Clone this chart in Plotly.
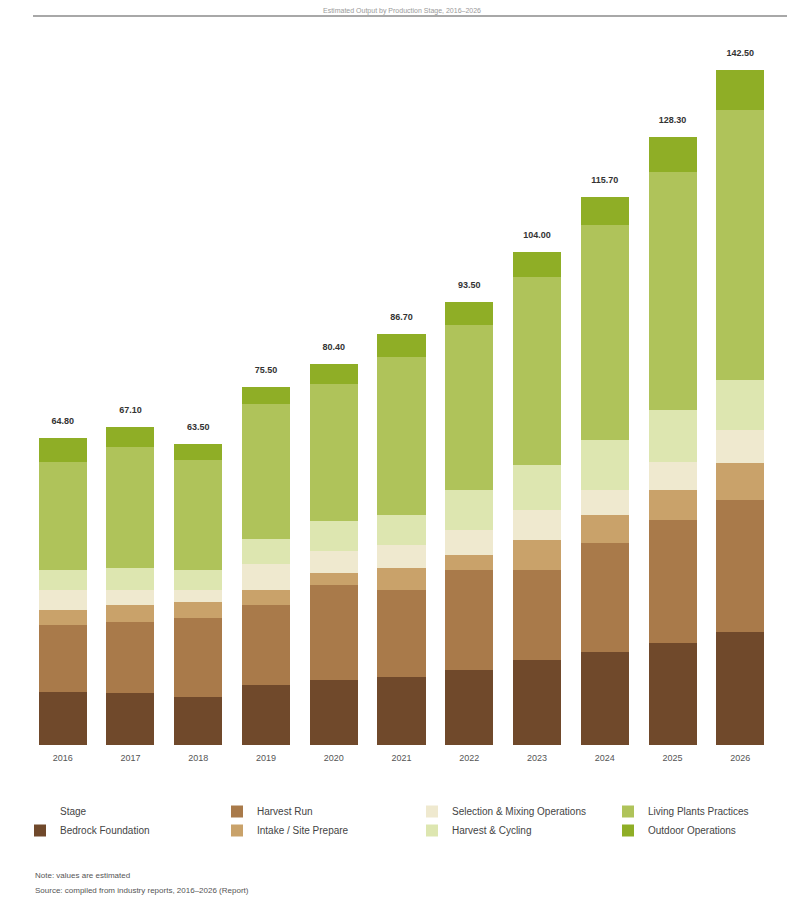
import plotly.graph_objects as go

years = ["2016", "2017", "2018", "2019", "2020", "2021", "2022", "2023", "2024", "2025", "2026"]

stage_names = [
    "Bedrock Foundation",
    "Harvest Run",
    "Intake / Site Prepare",
    "Selection & Mixing Operations",
    "Harvest & Cycling",
    "Living Plants Practices",
    "Outdoor Operations",
]

bedrock   = [11.2, 11.0, 10.1, 12.7, 13.7, 14.3, 15.8, 17.9, 19.6, 21.5, 23.8]
harvest   = [14.1, 15.0, 16.7, 16.9, 20.0, 18.4, 21.1, 19.0, 23.0, 26.0, 27.9]
intake    = [3.2, 3.6, 3.4, 3.2, 2.7, 4.6, 3.2, 6.3, 5.9, 6.3, 7.8]
selection = [4.2, 3.2, 2.5, 5.3, 4.6, 4.9, 5.3, 6.3, 5.3, 5.9, 7.0]
cycling   = [4.2, 4.6, 4.2, 5.3, 6.3, 6.3, 8.4, 9.5, 10.6, 11.0, 10.6]
living    = [22.8, 25.5, 23.2, 28.5, 28.9, 33.3, 34.8, 39.7, 45.4, 50.2, 57.0]
outdoor   = [5.1, 4.2, 3.4, 3.6, 4.2, 4.9, 4.9, 5.3, 5.9, 7.4, 8.4]

series = [bedrock, harvest, intake, selection, cycling, living, outdoor]
colors = ["#70492b", "#a97a4a", "#c9a26a", "#efe9cf", "#dde6b0", "#afc35a", "#8fae26"]
# legend column of each stage (column 1 starts with the "Stage" heading)
legend_cols = ["legend", "legend2", "legend2", "legend3", "legend3", "legend4", "legend4"]
legend_rank = [2, 1, 2, 1, 2, 1, 2]

totals = [round(sum(v), 2) for v in zip(*series)]

W, H = 790, 893
PLOT_L, PLOT_R = 17, 770
PLOT_TOP, PLOT_BOT = 32, 737

fig = go.Figure()

fig.add_trace(go.Bar(
    x=years, y=[0] * len(years), name="Stage",
    marker=dict(color="rgba(0,0,0,0)", line=dict(width=0)),
    legend="legend", legendrank=1, hoverinfo="skip",
))

for name, vals, col, lg, rk in zip(stage_names, series, colors, legend_cols, legend_rank):
    fig.add_trace(go.Bar(
        x=years, y=vals, name=name,
        marker=dict(color=col, line=dict(width=0)),
        legend=lg, legendrank=rk,
    ))

fig.add_trace(go.Scatter(
    x=years, y=totals, mode="text",
    text=[f"<b>{t:.2f}</b><br> " for t in totals],
    textposition="top center",
    textfont=dict(size=9, color="#333333", family="Liberation Sans"),
    showlegend=False, hoverinfo="skip", cliponaxis=False,
))

legend_common = dict(
    orientation="v", xref="container", yref="container", xanchor="left",
    y=(H - 789) / H, yanchor="top", traceorder="normal",
    font=dict(size=10, color="#444444"), bgcolor="rgba(0,0,0,0)",
)

fig.update_layout(
    width=W, height=H,
    barmode="stack", bargap=0.29,
    plot_bgcolor="white", paper_bgcolor="white",
    margin=dict(l=PLOT_L, r=W - PLOT_R, t=PLOT_TOP, b=H - PLOT_BOT, autoexpand=False),
    font=dict(family="Liberation Sans", size=9, color="#444444"),
    xaxis=dict(type="category", showgrid=False, showline=False, ticks="",
               tickfont=dict(size=9, color="#555555"), ticklabelstandoff=6),
    yaxis=dict(range=[0, 148.8], visible=False, showgrid=False),
    legend=dict(legend_common, x=12 / W),
    legend2=dict(legend_common, x=209 / W),
    legend3=dict(legend_common, x=404 / W),
    legend4=dict(legend_common, x=600 / W),
    showlegend=True,
)

ph = PLOT_BOT - PLOT_TOP
pw = PLOT_R - PLOT_L
fig.add_shape(type="line", xref="paper", yref="paper",
              x0=(25 - PLOT_L) / pw, x1=(779 - PLOT_L) / pw,
              y0=(PLOT_BOT - 8) / ph, y1=(PLOT_BOT - 8) / ph,
              line=dict(color="#a8a8a8", width=2))
fig.add_annotation(text="Estimated Output by Production Stage, 2016–2026",
                   xref="paper", yref="paper", x=0.5, y=(PLOT_BOT - 3) / ph,
                   xanchor="center", yanchor="middle",
                   showarrow=False, font=dict(size=7, color="#9a9a9a"))

fig.add_annotation(text="Note: values are estimated",
                   xref="paper", yref="paper", x=(25 - PLOT_L) / pw, y=(PLOT_BOT - 867) / ph,
                   xanchor="left", yanchor="middle",
                   showarrow=False, font=dict(size=8, color="#555555"))
fig.add_annotation(text="Source: compiled from industry reports, 2016–2026 (Report)",
                   xref="paper", yref="paper", x=(25 - PLOT_L) / pw, y=(PLOT_BOT - 882) / ph,
                   xanchor="left", yanchor="middle",
                   showarrow=False, font=dict(size=8, color="#555555"))

fig.write_html("out.html")
